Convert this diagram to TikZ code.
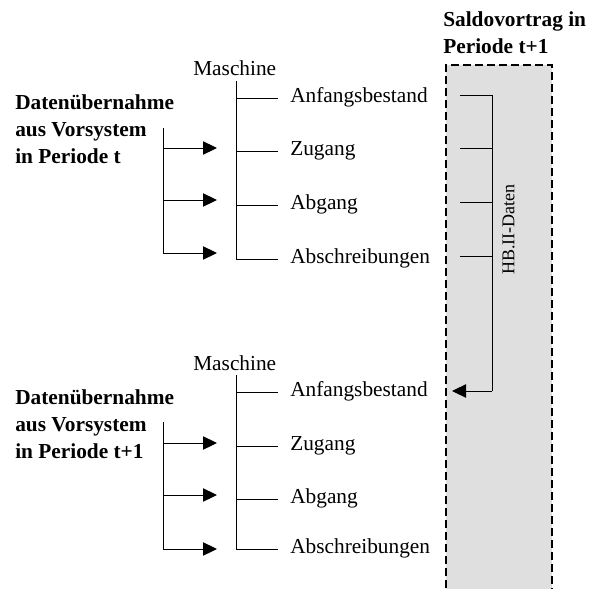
\documentclass[tikz,border=0pt]{standalone}
\usepackage{fontspec}
\setmainfont{Liberation Serif}
\usetikzlibrary{arrows.meta}
\begin{document}
\begin{tikzpicture}[x=0.75pt,y=-0.75pt,
  txt/.style={inner sep=0pt, font=\fontsize{16}{19.9}\selectfont},
  head/.style={inner sep=0pt, font=\bfseries\fontsize{16}{19.9}\selectfont, align=left},
  item/.style={txt, anchor=west, inner xsep=9pt, inner ysep=0pt, text height=0.7em, text depth=0.05em},
  vlabel/.style={inner sep=0pt, font=\fontsize{13.5}{16}\selectfont, rotate=90},
  line/.style={line width=0.75pt},
  arr/.style={line, -{Triangle[length=10.5pt,width=10pt]}},
  storeedge/.style={line width=1.5pt, dash pattern=on 6pt off 3pt}
]
\useasboundingbox (0,0) rectangle (589,589);

% carried-forward balance column
\fill[gray!25] (446,65) rectangle (552,600);
\draw[storeedge] (446,600) -- (446,65) -- (552,65) -- (552,600);
% multi-line nodes: the base anchor sits on the last line
\node[head, anchor=base west] (saldo) at (443,53) {Saldovortrag in\\Periode t+1};

% ---- period t ----
\node[head, anchor=base west] (src1) at (15,163) {Datenübernahme\\aus Vorsystem\\in Periode t};
\node[txt, anchor=base west] (m1) at (193,75) {Maschine};
\coordinate (v1t) at (236,81);
\coordinate (v1b) at (236,259);
\draw[line] (v1t) -- (v1b);
\node[item] (a1) at (278,98)  {Anfangsbestand};
\node[item] (z1) at (278,151) {Zugang};
\node[item] (g1) at (278,205) {Abgang};
\node[item] (s1) at (278,259) {Abschreibungen};
\foreach \n in {a1,z1,g1,s1} \draw[line] (v1t |- \n.west) -- (\n.west);

\coordinate (b1t) at (163,128);
\coordinate (b1b) at (163,253);
\draw[line] (b1t) -- (b1b);
\coordinate (e1z) at (217,148);
\coordinate (e1g) at (217,200);
\coordinate (e1s) at (217,253);
\foreach \e in {e1z,e1g,e1s} \draw[arr] (b1t |- \e) -- (\e);

% ---- period t+1 ----
\node[head, anchor=base west] (src2) at (15,458) {Datenübernahme\\aus Vorsystem\\in Periode t+1};
\node[txt, anchor=base west] (m2) at (193,370) {Maschine};
\coordinate (v2t) at (236,375);
\coordinate (v2b) at (236,549);
\draw[line] (v2t) -- (v2b);
\node[item] (a2) at (278,392) {Anfangsbestand};
\node[item] (z2) at (278,446) {Zugang};
\node[item] (g2) at (278,499) {Abgang};
\node[item] (s2) at (278,549) {Abschreibungen};
\foreach \n in {a2,z2,g2,s2} \draw[line] (v2t |- \n.west) -- (\n.west);

\coordinate (b2t) at (163,422);
\coordinate (b2b) at (163,549);
\draw[line] (b2t) -- (b2b);
\coordinate (e2z) at (217,443);
\coordinate (e2g) at (217,495);
\coordinate (e2s) at (217,549);
\foreach \e in {e2z,e2g,e2s} \draw[arr] (b2t |- \e) -- (\e);

% ---- HB.II data carried into the next period ----
\coordinate (hbt) at (492,95);
\coordinate (hbb) at (492,391);
\coordinate (hbin) at (452,391);
\foreach \y in {95,148,202,256} \draw[line] (460,\y) -- (hbt |- 0,\y);
\draw[line] (hbt) -- (hbb);
\draw[arr] (hbb) -- (hbin);
\node[vlabel] (hb) at (508.5,229.5) {HB.II-Daten};
\end{tikzpicture}
\end{document}
